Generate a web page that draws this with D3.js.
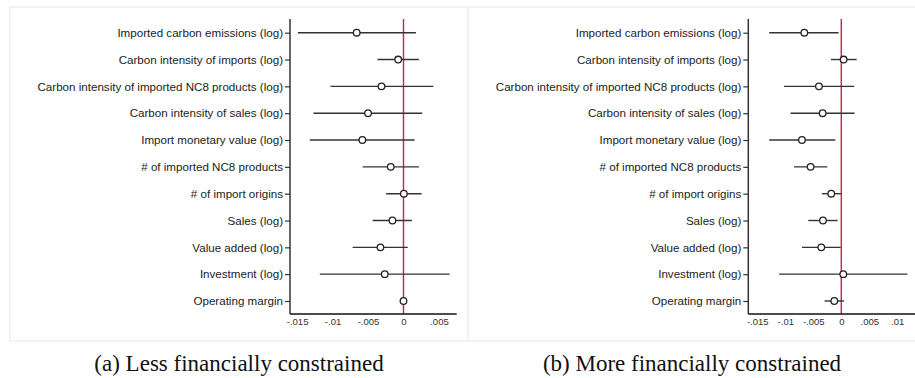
<!DOCTYPE html>
<html>
<head>
<meta charset="utf-8">
<script src="https://cdn.jsdelivr.net/npm/d3@7"></script>
<style>
  body { margin: 0; background: #fff; }
  svg { display: block; }
</style>
</head>
<body>
<svg id="chart" width="915" height="378"></svg>
<script>
// variables, top to bottom
var variables = [
  "Imported carbon emissions (log)",
  "Carbon intensity of imports (log)",
  "Carbon intensity of imported NC8 products (log)",
  "Carbon intensity of sales (log)",
  "Import monetary value (log)",
  "# of imported NC8 products",
  "# of import origins",
  "Sales (log)",
  "Value added (log)",
  "Investment (log)",
  "Operating margin"
];

// (a) less financially constrained
var lessCoef = [-0.0066, -0.00075, -0.0031, -0.0050, -0.0058, -0.0018, 0.00005, -0.00156, -0.00325, -0.00264, 0.0];
var lessLo   = [-0.0149, -0.00368, -0.0103, -0.0127, -0.0132, -0.00575, -0.00245, -0.00434, -0.00717, -0.0118, -0.0001];
var lessHi   = [0.00175, 0.00217, 0.0042, 0.00264, 0.00156, 0.00217, 0.00255, 0.00118, 0.0006, 0.0065, 0.0001];

// (b) more financially constrained
var moreCoef = [-0.0066, 0.00042, -0.00399, -0.00333, -0.00702, -0.00548, -0.00179, -0.00327, -0.00357, 0.00036, -0.00125];
var moreLo   = [-0.01286, -0.00185, -0.01024, -0.00905, -0.01286, -0.00845, -0.00345, -0.00589, -0.00702, -0.0111, -0.00298];
var moreHi   = [-0.00048, 0.00274, 0.00232, 0.00238, -0.00107, -0.0025, -0.00006, -0.00065, -0.00012, 0.0118, 0.00048];

var lessTicks = [-0.015, -0.01, -0.005, 0, 0.005];
var moreTicks = [-0.015, -0.01, -0.005, 0, 0.005, 0.01];

var captions = ["(a) Less financially constrained", "(b) More financially constrained"];

var svg = d3.select("#chart");

var fmt = function(d) { return d === 0 ? "0" : String(d).replace("0.", "."); };

function drawPanel(cfg) {
  var g = svg.append("g");

  // light frame
  g.append("rect")
    .attr("x", cfg.box[0]).attr("y", cfg.box[1])
    .attr("width", cfg.box[2]).attr("height", cfg.box[3])
    .attr("fill", "none").attr("stroke", "#eef3f3").attr("stroke-width", 2);

  var x = d3.scaleLinear().domain(cfg.domain).range([cfg.left, cfg.right]);
  var y = d3.scalePoint().domain(variables).range([32.7, 301]);

  var rows = variables.map(function(v, i) {
    return { name: v, coef: cfg.coef[i], lo: cfg.lo[i], hi: cfg.hi[i] };
  });

  // zero reference line
  g.append("line")
    .attr("x1", x(0)).attr("x2", x(0))
    .attr("y1", 19).attr("y2", 314)
    .attr("stroke", "#d11f4c").attr("stroke-width", 1.4);

  // y axis
  var yAxis = g.append("g")
    .attr("transform", "translate(" + cfg.left + ",0)")
    .call(d3.axisLeft(y).tickSize(5).tickPadding(2));
  yAxis.select(".domain").remove();
  yAxis.selectAll(".tick line").attr("stroke", "#333").attr("stroke-width", 1.2);
  yAxis.selectAll("text")
    .attr("font-family", "Liberation Sans, Arial, sans-serif")
    .attr("font-size", 11.6).attr("fill", "#222");
  g.append("line")
    .attr("x1", cfg.left).attr("x2", cfg.left)
    .attr("y1", 19).attr("y2", 314)
    .attr("stroke", "#333").attr("stroke-width", 1.5);

  // x axis
  var xAxis = g.append("g")
    .attr("transform", "translate(0,314)")
    .call(d3.axisBottom(x).tickValues(cfg.ticks).tickFormat(fmt).tickSize(0).tickPadding(4));
  xAxis.select(".domain").attr("stroke", "#111").attr("stroke-width", 1.5)
    .attr("d", "M" + cfg.left + ",0H" + cfg.right);
  xAxis.selectAll("text")
    .attr("font-family", "Liberation Sans, Arial, sans-serif")
    .attr("font-size", 9.5).attr("fill", "#333");

  // confidence intervals
  g.selectAll(".ci").data(rows).enter().append("line")
    .attr("class", "ci")
    .attr("x1", function(d) { return x(d.lo); })
    .attr("x2", function(d) { return x(d.hi); })
    .attr("y1", function(d) { return y(d.name); })
    .attr("y2", function(d) { return y(d.name); })
    .attr("stroke", "#333").attr("stroke-width", 1.4);

  // point estimates
  g.selectAll(".pt").data(rows).enter().append("circle")
    .attr("class", "pt")
    .attr("cx", function(d) { return x(d.coef); })
    .attr("cy", function(d) { return y(d.name); })
    .attr("r", 3.3)
    .attr("fill", "#fff").attr("stroke", "#222").attr("stroke-width", 1.3);

  // caption
  svg.append("text")
    .attr("x", cfg.captionX).attr("y", 371)
    .attr("text-anchor", "middle")
    .attr("font-family", "Liberation Serif, Times New Roman, serif")
    .attr("font-size", 23).attr("fill", "#111")
    .text(cfg.caption);
}

drawPanel({
  coef: lessCoef, lo: lessLo, hi: lessHi, ticks: lessTicks,
  domain: [-0.016, 0.0075], left: 290, right: 456.7,
  box: [10, 7, 458, 334], captionX: 239, caption: captions[0]
});

drawPanel({
  coef: moreCoef, lo: moreLo, hi: moreHi, ticks: moreTicks,
  domain: [-0.0166, 0.01316], left: 748.3, right: 915,
  box: [468, 7, 460, 334], captionX: 692, caption: captions[1]
});
</script>
</body>
</html>
